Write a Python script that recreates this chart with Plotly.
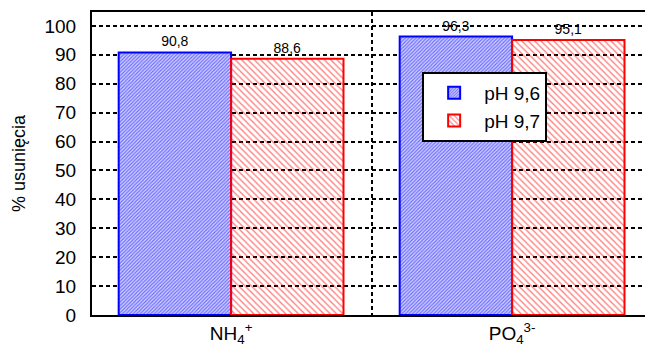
import plotly.graph_objects as go

categories = ["NH<sub>4</sub><sup>+</sup>", "PO<sub>4</sub><sup>3-</sup>"]
ph96 = [90.8, 96.3]
ph97 = [88.6, 95.1]
series_names = ["pH 9,6", "pH 9,7"]
y_ticks = [0, 10, 20, 30, 40, 50, 60, 70, 80, 90, 100]

FONT = "Liberation Sans, Arial, sans-serif"

def lab(vals):
    return [f"{v:.1f}".replace(".", ",") for v in vals]

fig = go.Figure()
fig.add_trace(go.Bar(
    x=categories, y=ph96, name=series_names[0],
    text=lab(ph96), textposition="outside",
    textfont=dict(size=14, color="black", family=FONT),
    cliponaxis=False,
    marker=dict(color="white",
                line=dict(color="#0000ff", width=2),
                pattern=dict(shape="/", fgcolor="#0000ff", bgcolor="#d8d8ff",
                             size=2.5, solidity=0.5)),
))
fig.add_trace(go.Bar(
    x=categories, y=ph97, name=series_names[1],
    text=lab(ph97), textposition="outside",
    textfont=dict(size=14, color="black", family=FONT),
    cliponaxis=False,
    marker=dict(color="rgba(0,0,0,0)",
                line=dict(color="#ff0000", width=2),
                pattern=dict(shape="\\", fgcolor="#ff0000", bgcolor="rgba(0,0,0,0)",
                             size=4.5, solidity=0.3)),
))

fig.update_layout(
    width=645, height=347,
    margin=dict(l=92, r=0, t=12, b=32),
    paper_bgcolor="white", plot_bgcolor="white",
    barmode="group", bargap=0.2, bargroupgap=0,
    font=dict(family=FONT, color="black", size=19),
    showlegend=True,
    legend=dict(x=0.597, y=0.802, xanchor="left", yanchor="top",
                bgcolor="white", bordercolor="black", borderwidth=2,
                font=dict(size=19, family=FONT), itemwidth=50,
                tracegroupgap=6),
    xaxis=dict(
        range=[-0.495, 1.473],
        showline=True, linecolor="black", linewidth=2, mirror=True,
        tickson="boundaries", ticks="", showgrid=True,
        gridcolor="black", gridwidth=2, griddash="4px,3px",
        tickfont=dict(size=19, family=FONT),
        zeroline=False,
    ),
    yaxis=dict(
        range=[0, 104.8],
        tickvals=y_ticks, ticktext=[str(v) for v in y_ticks],
        showline=True, linecolor="black", linewidth=2,
        ticks="", ticklabelstandoff=10,
        showgrid=True, gridcolor="black", gridwidth=2, griddash="4px,3px",
        zeroline=False,
        tickfont=dict(size=19, family=FONT),
        title=dict(text="% usunięcia", font=dict(size=18, family=FONT), standoff=14),
    ),
)

fig.write_html("out.html")
